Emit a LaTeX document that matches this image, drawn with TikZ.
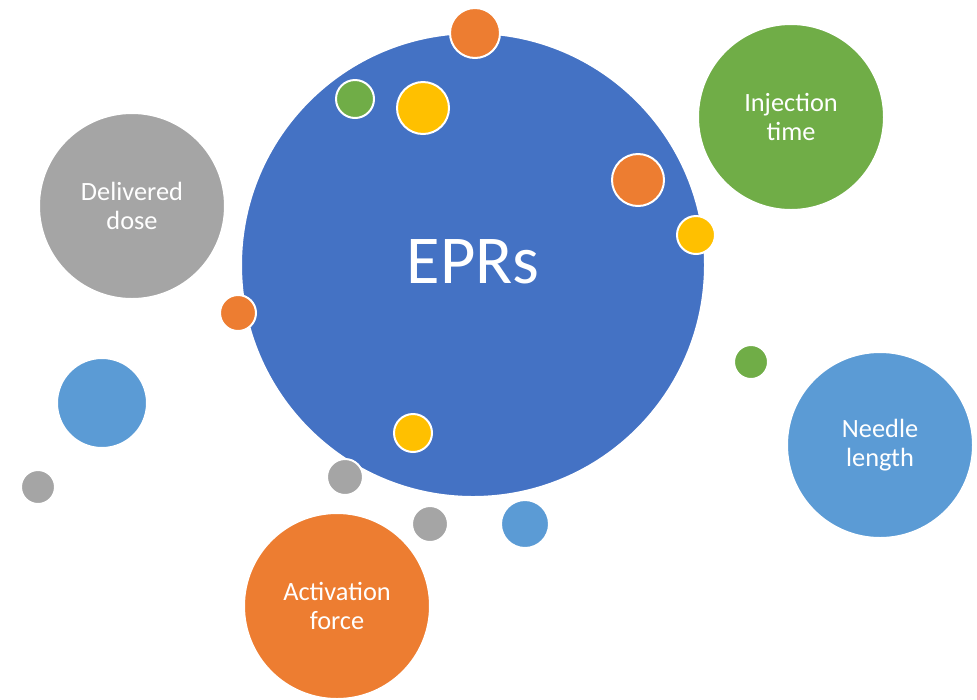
\documentclass[tikz,border=0pt]{standalone}
\usepackage{fontspec}
\setmainfont{Carlito}

\definecolor{eprblue}{HTML}{4472C4}
\definecolor{offorange}{HTML}{ED7D31}
\definecolor{offgray}{HTML}{A5A5A5}
\definecolor{offyellow}{HTML}{FFC000}
\definecolor{lightblue}{HTML}{5B9BD5}
\definecolor{offgreen}{HTML}{70AD47}

\tikzset{
  bubble/.style={circle, draw=white, line width=0.4mm, inner sep=0pt,
    minimum size=#1*0.4mm, text=white, align=center},
  label bubble/.style={bubble=93, font=\fontsize{15}{16.5}\selectfont},
}

\begin{document}
\begin{tikzpicture}[x=0.2mm, y=-0.2mm]
  \fill[white] (0,0) rectangle (977,699);
  \useasboundingbox (0,0) rectangle (977,699);

  % Central bubble
  \node[bubble=232, fill=eprblue] (epr) at (473,265) {};
  \node[text=white, font=\fontsize{39}{42}\selectfont] (eprtext) at (473,262) {EPRs};

  % Labelled bubbles
  \node[label bubble, fill=offgray]   (dose)      at (132,206) {Delivered\\dose};
  \node[label bubble, fill=offgreen]  (injection) at (791,117) {Injection\\time};
  \node[label bubble, fill=lightblue] (needle)    at (880,445) {Needle\\length};
  \node[label bubble, fill=offorange] (force)     at (337,606) {Activation\\force};

  % Small dots
  \foreach \i/\x/\y/\r/\c in {
    1/475/33/25/offorange,
    2/355/99/19/offgreen,
    3/423/108/26/offyellow,
    4/638/180/26/offorange,
    5/696/235/19/offyellow,
    6/238/313/18/offorange,
    7/413/433/19/offyellow,
    8/345/477/18/offgray,
    9/430/524/18/offgray,
    10/525/524/24/lightblue,
    11/751/362/17/offgreen,
    12/102/403/45/lightblue,
    13/38/487/17/offgray%
  } {
    \node[bubble=\r, fill=\c] (dot\i) at (\x,\y) {};
  }
\end{tikzpicture}
\end{document}
